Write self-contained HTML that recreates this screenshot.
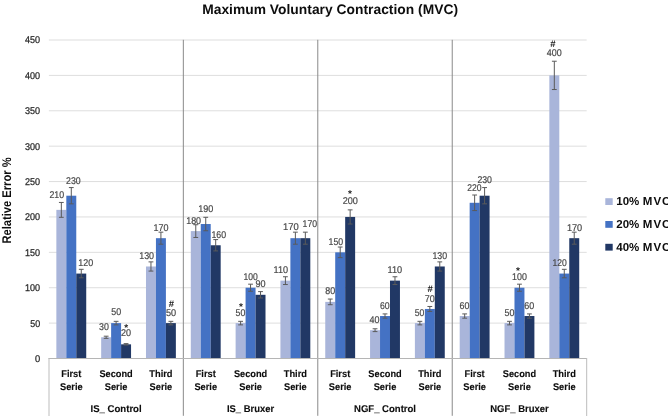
<!DOCTYPE html>
<html><head><meta charset="utf-8"><title>Maximum Voluntary Contraction (MVC)</title>
<style>
html,body{margin:0;padding:0;background:#fff;}
body{width:668px;height:416px;overflow:hidden;}
svg{display:block;will-change:transform;}
text{font-family:"Liberation Sans",sans-serif;text-rendering:geometricPrecision;}
</style></head><body>
<svg width="668" height="416" viewBox="0 0 668 416">
<rect x="0" y="0" width="668" height="416" fill="#ffffff"/>
<text x="202.2" y="13.7" font-size="13.8" font-weight="bold" fill="#0d0d0d" textLength="255.8" lengthAdjust="spacing">Maximum Voluntary Contraction (MVC)</text>
<text transform="translate(11.0,243.6) rotate(-90)" x="0" y="0" font-size="12.6" font-weight="bold" fill="#0d0d0d" textLength="86.2" lengthAdjust="spacingAndGlyphs">Relative Error %</text>
<rect x="48.88" y="322.61" width="537.80" height="1" fill="#dedede"/>
<rect x="48.88" y="287.22" width="537.80" height="1" fill="#dedede"/>
<rect x="48.88" y="251.83" width="537.80" height="1" fill="#dedede"/>
<rect x="48.88" y="216.44" width="537.80" height="1" fill="#dedede"/>
<rect x="48.88" y="181.06" width="537.80" height="1" fill="#dedede"/>
<rect x="48.88" y="145.67" width="537.80" height="1" fill="#dedede"/>
<rect x="48.88" y="110.28" width="537.80" height="1" fill="#dedede"/>
<rect x="48.88" y="74.89" width="537.80" height="1" fill="#dedede"/>
<rect x="48.88" y="39.50" width="537.80" height="1" fill="#dedede"/>
<text x="34.90" y="361.95" font-size="9.8" fill="#262626" stroke="#262626" stroke-width="0.25" textLength="5.20" lengthAdjust="spacingAndGlyphs">0</text>
<text x="30.20" y="326.56" font-size="9.8" fill="#262626" stroke="#262626" stroke-width="0.25" textLength="9.90" lengthAdjust="spacingAndGlyphs">50</text>
<text x="25.00" y="291.17" font-size="9.8" fill="#262626" stroke="#262626" stroke-width="0.25" textLength="15.10" lengthAdjust="spacingAndGlyphs">100</text>
<text x="25.00" y="255.78" font-size="9.8" fill="#262626" stroke="#262626" stroke-width="0.25" textLength="15.10" lengthAdjust="spacingAndGlyphs">150</text>
<text x="25.00" y="220.39" font-size="9.8" fill="#262626" stroke="#262626" stroke-width="0.25" textLength="15.10" lengthAdjust="spacingAndGlyphs">200</text>
<text x="25.00" y="185.01" font-size="9.8" fill="#262626" stroke="#262626" stroke-width="0.25" textLength="15.10" lengthAdjust="spacingAndGlyphs">250</text>
<text x="25.00" y="149.62" font-size="9.8" fill="#262626" stroke="#262626" stroke-width="0.25" textLength="15.10" lengthAdjust="spacingAndGlyphs">300</text>
<text x="25.00" y="114.23" font-size="9.8" fill="#262626" stroke="#262626" stroke-width="0.25" textLength="15.10" lengthAdjust="spacingAndGlyphs">350</text>
<text x="25.00" y="78.84" font-size="9.8" fill="#262626" stroke="#262626" stroke-width="0.25" textLength="15.10" lengthAdjust="spacingAndGlyphs">400</text>
<text x="25.00" y="43.45" font-size="9.8" fill="#262626" stroke="#262626" stroke-width="0.25" textLength="15.10" lengthAdjust="spacingAndGlyphs">450</text>
<rect x="182.83" y="39.80" width="1" height="376.00" fill="#8a8a8a"/>
<rect x="317.28" y="39.80" width="1" height="376.00" fill="#8a8a8a"/>
<rect x="451.73" y="39.80" width="1" height="376.00" fill="#8a8a8a"/>
<rect x="56.35" y="209.87" width="9.96" height="148.13" fill="#a9b5da"/>
<rect x="66.31" y="195.71" width="9.96" height="162.29" fill="#4472c4"/>
<rect x="76.27" y="273.57" width="9.96" height="84.43" fill="#213865"/>
<rect x="101.17" y="337.27" width="9.96" height="20.73" fill="#a9b5da"/>
<rect x="111.13" y="323.11" width="9.96" height="34.89" fill="#4472c4"/>
<rect x="121.09" y="344.34" width="9.96" height="13.66" fill="#213865"/>
<rect x="145.98" y="266.49" width="9.96" height="91.51" fill="#a9b5da"/>
<rect x="155.94" y="238.18" width="9.96" height="119.82" fill="#4472c4"/>
<rect x="165.90" y="323.11" width="9.96" height="34.89" fill="#213865"/>
<rect x="190.80" y="231.10" width="9.96" height="126.90" fill="#a9b5da"/>
<rect x="200.76" y="224.02" width="9.96" height="133.98" fill="#4472c4"/>
<rect x="210.72" y="245.26" width="9.96" height="112.74" fill="#213865"/>
<rect x="235.62" y="323.11" width="9.96" height="34.89" fill="#a9b5da"/>
<rect x="245.58" y="287.72" width="9.96" height="70.28" fill="#4472c4"/>
<rect x="255.54" y="294.80" width="9.96" height="63.20" fill="#213865"/>
<rect x="280.43" y="280.64" width="9.96" height="77.36" fill="#a9b5da"/>
<rect x="290.39" y="238.18" width="9.96" height="119.82" fill="#4472c4"/>
<rect x="300.35" y="238.18" width="9.96" height="119.82" fill="#213865"/>
<rect x="325.25" y="301.88" width="9.96" height="56.12" fill="#a9b5da"/>
<rect x="335.21" y="252.33" width="9.96" height="105.67" fill="#4472c4"/>
<rect x="345.17" y="216.94" width="9.96" height="141.06" fill="#213865"/>
<rect x="370.07" y="330.19" width="9.96" height="27.81" fill="#a9b5da"/>
<rect x="380.03" y="316.03" width="9.96" height="41.97" fill="#4472c4"/>
<rect x="389.99" y="280.64" width="9.96" height="77.36" fill="#213865"/>
<rect x="414.89" y="323.11" width="9.96" height="34.89" fill="#a9b5da"/>
<rect x="424.84" y="308.96" width="9.96" height="49.04" fill="#4472c4"/>
<rect x="434.80" y="266.49" width="9.96" height="91.51" fill="#213865"/>
<rect x="459.70" y="316.03" width="9.96" height="41.97" fill="#a9b5da"/>
<rect x="469.66" y="202.79" width="9.96" height="155.21" fill="#4472c4"/>
<rect x="479.62" y="195.71" width="9.96" height="162.29" fill="#213865"/>
<rect x="504.52" y="323.11" width="9.96" height="34.89" fill="#a9b5da"/>
<rect x="514.48" y="287.72" width="9.96" height="70.28" fill="#4472c4"/>
<rect x="524.44" y="316.03" width="9.96" height="41.97" fill="#213865"/>
<rect x="549.34" y="75.39" width="9.96" height="282.61" fill="#a9b5da"/>
<rect x="559.30" y="273.57" width="9.96" height="84.43" fill="#4472c4"/>
<rect x="569.26" y="238.18" width="9.96" height="119.82" fill="#213865"/>
<path d="M61.33 202.44V217.30M58.93 202.44H63.73M58.93 217.30H63.73" stroke="#5a5a5a" stroke-width="1" fill="none"/>
<path d="M71.29 187.57V203.85M68.89 187.57H73.69M68.89 203.85H73.69" stroke="#5a5a5a" stroke-width="1" fill="none"/>
<path d="M81.25 269.32V277.81M78.85 269.32H83.65M78.85 277.81H83.65" stroke="#5a5a5a" stroke-width="1" fill="none"/>
<path d="M106.15 336.20V338.33M103.75 336.20H108.55M103.75 338.33H108.55" stroke="#5a5a5a" stroke-width="1" fill="none"/>
<path d="M116.11 321.34V324.88M113.71 321.34H118.51M113.71 324.88H118.51" stroke="#5a5a5a" stroke-width="1" fill="none"/>
<path d="M126.06 343.64V345.05M123.66 343.64H128.46M123.66 345.05H128.46" stroke="#5a5a5a" stroke-width="1" fill="none"/>
<path d="M150.96 261.89V271.09M148.56 261.89H153.36M148.56 271.09H153.36" stroke="#5a5a5a" stroke-width="1" fill="none"/>
<path d="M160.92 232.16V244.19M158.52 232.16H163.32M158.52 244.19H163.32" stroke="#5a5a5a" stroke-width="1" fill="none"/>
<path d="M170.88 321.34V324.88M168.48 321.34H173.28M168.48 324.88H173.28" stroke="#5a5a5a" stroke-width="1" fill="none"/>
<path d="M195.78 224.73V237.47M193.38 224.73H198.18M193.38 237.47H198.18" stroke="#5a5a5a" stroke-width="1" fill="none"/>
<path d="M205.74 217.30V230.75M203.34 217.30H208.14M203.34 230.75H208.14" stroke="#5a5a5a" stroke-width="1" fill="none"/>
<path d="M215.70 239.59V250.92M213.30 239.59H218.10M213.30 250.92H218.10" stroke="#5a5a5a" stroke-width="1" fill="none"/>
<path d="M240.60 321.34V324.88M238.20 321.34H243.00M238.20 324.88H243.00" stroke="#5a5a5a" stroke-width="1" fill="none"/>
<path d="M250.56 284.18V291.26M248.16 284.18H252.96M248.16 291.26H252.96" stroke="#5a5a5a" stroke-width="1" fill="none"/>
<path d="M260.52 291.62V297.99M258.12 291.62H262.92M258.12 297.99H262.92" stroke="#5a5a5a" stroke-width="1" fill="none"/>
<path d="M285.41 276.75V284.54M283.01 276.75H287.81M283.01 284.54H287.81" stroke="#5a5a5a" stroke-width="1" fill="none"/>
<path d="M295.37 232.16V244.19M292.97 232.16H297.77M292.97 244.19H297.77" stroke="#5a5a5a" stroke-width="1" fill="none"/>
<path d="M305.33 232.16V244.19M302.93 232.16H307.73M302.93 244.19H307.73" stroke="#5a5a5a" stroke-width="1" fill="none"/>
<path d="M330.23 299.05V304.71M327.83 299.05H332.63M327.83 304.71H332.63" stroke="#5a5a5a" stroke-width="1" fill="none"/>
<path d="M340.19 247.03V257.64M337.79 247.03H342.59M337.79 257.64H342.59" stroke="#5a5a5a" stroke-width="1" fill="none"/>
<path d="M350.15 209.87V224.02M347.75 209.87H352.55M347.75 224.02H352.55" stroke="#5a5a5a" stroke-width="1" fill="none"/>
<path d="M375.05 328.77V331.60M372.65 328.77H377.45M372.65 331.60H377.45" stroke="#5a5a5a" stroke-width="1" fill="none"/>
<path d="M385.01 313.91V318.16M382.61 313.91H387.41M382.61 318.16H387.41" stroke="#5a5a5a" stroke-width="1" fill="none"/>
<path d="M394.97 276.75V284.54M392.57 276.75H397.37M392.57 284.54H397.37" stroke="#5a5a5a" stroke-width="1" fill="none"/>
<path d="M419.87 321.34V324.88M417.47 321.34H422.27M417.47 324.88H422.27" stroke="#5a5a5a" stroke-width="1" fill="none"/>
<path d="M429.82 306.48V311.43M427.42 306.48H432.22M427.42 311.43H432.22" stroke="#5a5a5a" stroke-width="1" fill="none"/>
<path d="M439.78 261.89V271.09M437.38 261.89H442.18M437.38 271.09H442.18" stroke="#5a5a5a" stroke-width="1" fill="none"/>
<path d="M464.68 313.91V318.16M462.28 313.91H467.08M462.28 318.16H467.08" stroke="#5a5a5a" stroke-width="1" fill="none"/>
<path d="M474.64 195.00V210.57M472.24 195.00H477.04M472.24 210.57H477.04" stroke="#5a5a5a" stroke-width="1" fill="none"/>
<path d="M484.60 187.57V203.85M482.20 187.57H487.00M482.20 203.85H487.00" stroke="#5a5a5a" stroke-width="1" fill="none"/>
<path d="M509.50 321.34V324.88M507.10 321.34H511.90M507.10 324.88H511.90" stroke="#5a5a5a" stroke-width="1" fill="none"/>
<path d="M519.46 284.18V291.26M517.06 284.18H521.86M517.06 291.26H521.86" stroke="#5a5a5a" stroke-width="1" fill="none"/>
<path d="M529.42 313.91V318.16M527.02 313.91H531.82M527.02 318.16H531.82" stroke="#5a5a5a" stroke-width="1" fill="none"/>
<path d="M554.32 61.23V89.54M551.92 61.23H556.72M551.92 89.54H556.72" stroke="#5a5a5a" stroke-width="1" fill="none"/>
<path d="M564.28 269.32V277.81M561.88 269.32H566.68M561.88 277.81H566.68" stroke="#5a5a5a" stroke-width="1" fill="none"/>
<path d="M574.23 232.16V244.19M571.83 232.16H576.63M571.83 244.19H576.63" stroke="#5a5a5a" stroke-width="1" fill="none"/>
<rect x="48.5" y="358" width="538.30" height="1" fill="#b5b5b5"/>
<rect x="48.5" y="358" width="1" height="58" fill="#bdbdbd"/>
<rect x="586.18" y="358" width="1" height="58" fill="#bdbdbd"/>
<text x="49.40" y="198.00" font-size="9.8" fill="#474747" stroke="#474747" stroke-width="0.2" textLength="14.70" lengthAdjust="spacingAndGlyphs">210</text>
<text x="66.10" y="183.70" font-size="9.8" fill="#474747" stroke="#474747" stroke-width="0.2" textLength="14.60" lengthAdjust="spacingAndGlyphs">230</text>
<text x="78.35" y="265.60" font-size="9.8" fill="#474747" stroke="#474747" stroke-width="0.2" textLength="14.95" lengthAdjust="spacingAndGlyphs">120</text>
<text x="99.00" y="329.70" font-size="9.8" fill="#474747" stroke="#474747" stroke-width="0.2" textLength="9.80" lengthAdjust="spacingAndGlyphs">30</text>
<text x="111.20" y="315.30" font-size="9.8" fill="#474747" stroke="#474747" stroke-width="0.2" textLength="9.90" lengthAdjust="spacingAndGlyphs">50</text>
<text x="121.00" y="336.20" font-size="9.8" fill="#474747" stroke="#474747" stroke-width="0.2" textLength="10.10" lengthAdjust="spacingAndGlyphs">20</text>
<text x="139.20" y="259.10" font-size="9.8" fill="#474747" stroke="#474747" stroke-width="0.2" textLength="14.90" lengthAdjust="spacingAndGlyphs">130</text>
<text x="153.40" y="230.80" font-size="9.8" fill="#474747" stroke="#474747" stroke-width="0.2" textLength="15.00" lengthAdjust="spacingAndGlyphs">170</text>
<text x="165.90" y="315.70" font-size="9.8" fill="#474747" stroke="#474747" stroke-width="0.2" textLength="10.20" lengthAdjust="spacingAndGlyphs">50</text>
<text x="186.20" y="223.70" font-size="9.8" fill="#474747" stroke="#474747" stroke-width="0.2" textLength="14.90" lengthAdjust="spacingAndGlyphs">180</text>
<text x="198.20" y="212.10" font-size="9.8" fill="#474747" stroke="#474747" stroke-width="0.2" textLength="15.10" lengthAdjust="spacingAndGlyphs">190</text>
<text x="211.40" y="237.80" font-size="9.8" fill="#474747" stroke="#474747" stroke-width="0.2" textLength="14.70" lengthAdjust="spacingAndGlyphs">160</text>
<text x="235.50" y="315.70" font-size="9.8" fill="#474747" stroke="#474747" stroke-width="0.2" textLength="9.80" lengthAdjust="spacingAndGlyphs">50</text>
<text x="243.40" y="279.90" font-size="9.8" fill="#474747" stroke="#474747" stroke-width="0.2" textLength="14.30" lengthAdjust="spacingAndGlyphs">100</text>
<text x="255.40" y="287.20" font-size="9.8" fill="#474747" stroke="#474747" stroke-width="0.2" textLength="10.10" lengthAdjust="spacingAndGlyphs">90</text>
<text x="273.50" y="273.20" font-size="9.8" fill="#474747" stroke="#474747" stroke-width="0.2" textLength="14.50" lengthAdjust="spacingAndGlyphs">110</text>
<text x="283.10" y="229.90" font-size="9.8" fill="#474747" stroke="#474747" stroke-width="0.2" textLength="15.70" lengthAdjust="spacingAndGlyphs">170</text>
<text x="302.60" y="227.40" font-size="9.8" fill="#474747" stroke="#474747" stroke-width="0.2" textLength="14.50" lengthAdjust="spacingAndGlyphs">170</text>
<text x="325.20" y="294.20" font-size="9.8" fill="#474747" stroke="#474747" stroke-width="0.2" textLength="9.90" lengthAdjust="spacingAndGlyphs">80</text>
<text x="328.60" y="244.90" font-size="9.8" fill="#474747" stroke="#474747" stroke-width="0.2" textLength="14.60" lengthAdjust="spacingAndGlyphs">150</text>
<text x="342.70" y="203.70" font-size="9.8" fill="#474747" stroke="#474747" stroke-width="0.2" textLength="15.20" lengthAdjust="spacingAndGlyphs">200</text>
<text x="369.60" y="322.80" font-size="9.8" fill="#474747" stroke="#474747" stroke-width="0.2" textLength="10.00" lengthAdjust="spacingAndGlyphs">40</text>
<text x="380.00" y="309.00" font-size="9.8" fill="#474747" stroke="#474747" stroke-width="0.2" textLength="9.70" lengthAdjust="spacingAndGlyphs">60</text>
<text x="387.50" y="273.20" font-size="9.8" fill="#474747" stroke="#474747" stroke-width="0.2" textLength="14.60" lengthAdjust="spacingAndGlyphs">110</text>
<text x="414.80" y="315.70" font-size="9.8" fill="#474747" stroke="#474747" stroke-width="0.2" textLength="9.60" lengthAdjust="spacingAndGlyphs">50</text>
<text x="424.80" y="302.00" font-size="9.8" fill="#474747" stroke="#474747" stroke-width="0.2" textLength="10.00" lengthAdjust="spacingAndGlyphs">70</text>
<text x="432.40" y="259.00" font-size="9.8" fill="#474747" stroke="#474747" stroke-width="0.2" textLength="14.70" lengthAdjust="spacingAndGlyphs">130</text>
<text x="459.50" y="308.50" font-size="9.8" fill="#474747" stroke="#474747" stroke-width="0.2" textLength="9.90" lengthAdjust="spacingAndGlyphs">60</text>
<text x="467.20" y="190.90" font-size="9.8" fill="#474747" stroke="#474747" stroke-width="0.2" textLength="14.30" lengthAdjust="spacingAndGlyphs">220</text>
<text x="477.40" y="183.40" font-size="9.8" fill="#474747" stroke="#474747" stroke-width="0.2" textLength="14.60" lengthAdjust="spacingAndGlyphs">230</text>
<text x="504.50" y="315.60" font-size="9.8" fill="#474747" stroke="#474747" stroke-width="0.2" textLength="9.90" lengthAdjust="spacingAndGlyphs">50</text>
<text x="512.10" y="280.00" font-size="9.8" fill="#474747" stroke="#474747" stroke-width="0.2" textLength="14.80" lengthAdjust="spacingAndGlyphs">100</text>
<text x="524.30" y="308.80" font-size="9.8" fill="#474747" stroke="#474747" stroke-width="0.2" textLength="10.00" lengthAdjust="spacingAndGlyphs">60</text>
<text x="546.80" y="56.10" font-size="9.8" fill="#474747" stroke="#474747" stroke-width="0.2" textLength="14.90" lengthAdjust="spacingAndGlyphs">400</text>
<text x="552.40" y="266.20" font-size="9.8" fill="#474747" stroke="#474747" stroke-width="0.2" textLength="14.30" lengthAdjust="spacingAndGlyphs">120</text>
<text x="566.90" y="231.00" font-size="9.8" fill="#474747" stroke="#474747" stroke-width="0.2" textLength="15.30" lengthAdjust="spacingAndGlyphs">170</text>
<text x="126.17" y="331.40" font-size="10" font-weight="bold" fill="#1a1a1a" text-anchor="middle">*</text>
<text x="171.38" y="306.90" font-size="9.5" font-weight="bold" fill="#1a1a1a" text-anchor="middle">#</text>
<text x="241.00" y="310.30" font-size="10" font-weight="bold" fill="#1a1a1a" text-anchor="middle">*</text>
<text x="349.85" y="196.60" font-size="10" font-weight="bold" fill="#1a1a1a" text-anchor="middle">*</text>
<text x="430.05" y="292.20" font-size="9.5" font-weight="bold" fill="#1a1a1a" text-anchor="middle">#</text>
<text x="517.90" y="273.50" font-size="10" font-weight="bold" fill="#1a1a1a" text-anchor="middle">*</text>
<text x="553.00" y="47.20" font-size="9.5" font-weight="bold" fill="#1a1a1a" text-anchor="middle">#</text>
<text x="71.29" y="376.6" font-size="9.8" font-weight="bold" fill="#0d0d0d" stroke="#0d0d0d" stroke-width="0.12" text-anchor="middle" lengthAdjust="spacingAndGlyphs" textLength="20.10">First</text>
<text x="71.29" y="390.3" font-size="9.8" font-weight="bold" fill="#0d0d0d" stroke="#0d0d0d" stroke-width="0.12" text-anchor="middle" lengthAdjust="spacingAndGlyphs" textLength="22.70">Serie</text>
<text x="116.11" y="376.6" font-size="9.8" font-weight="bold" fill="#0d0d0d" stroke="#0d0d0d" stroke-width="0.12" text-anchor="middle" lengthAdjust="spacingAndGlyphs" textLength="33.30">Second</text>
<text x="116.11" y="390.3" font-size="9.8" font-weight="bold" fill="#0d0d0d" stroke="#0d0d0d" stroke-width="0.12" text-anchor="middle" lengthAdjust="spacingAndGlyphs" textLength="22.70">Serie</text>
<text x="160.92" y="376.6" font-size="9.8" font-weight="bold" fill="#0d0d0d" stroke="#0d0d0d" stroke-width="0.12" text-anchor="middle" lengthAdjust="spacingAndGlyphs" textLength="23.30">Third</text>
<text x="160.92" y="390.3" font-size="9.8" font-weight="bold" fill="#0d0d0d" stroke="#0d0d0d" stroke-width="0.12" text-anchor="middle" lengthAdjust="spacingAndGlyphs" textLength="22.70">Serie</text>
<text x="205.74" y="376.6" font-size="9.8" font-weight="bold" fill="#0d0d0d" stroke="#0d0d0d" stroke-width="0.12" text-anchor="middle" lengthAdjust="spacingAndGlyphs" textLength="20.10">First</text>
<text x="205.74" y="390.3" font-size="9.8" font-weight="bold" fill="#0d0d0d" stroke="#0d0d0d" stroke-width="0.12" text-anchor="middle" lengthAdjust="spacingAndGlyphs" textLength="22.70">Serie</text>
<text x="250.56" y="376.6" font-size="9.8" font-weight="bold" fill="#0d0d0d" stroke="#0d0d0d" stroke-width="0.12" text-anchor="middle" lengthAdjust="spacingAndGlyphs" textLength="33.30">Second</text>
<text x="250.56" y="390.3" font-size="9.8" font-weight="bold" fill="#0d0d0d" stroke="#0d0d0d" stroke-width="0.12" text-anchor="middle" lengthAdjust="spacingAndGlyphs" textLength="22.70">Serie</text>
<text x="295.37" y="376.6" font-size="9.8" font-weight="bold" fill="#0d0d0d" stroke="#0d0d0d" stroke-width="0.12" text-anchor="middle" lengthAdjust="spacingAndGlyphs" textLength="23.30">Third</text>
<text x="295.37" y="390.3" font-size="9.8" font-weight="bold" fill="#0d0d0d" stroke="#0d0d0d" stroke-width="0.12" text-anchor="middle" lengthAdjust="spacingAndGlyphs" textLength="22.70">Serie</text>
<text x="340.19" y="376.6" font-size="9.8" font-weight="bold" fill="#0d0d0d" stroke="#0d0d0d" stroke-width="0.12" text-anchor="middle" lengthAdjust="spacingAndGlyphs" textLength="20.10">First</text>
<text x="340.19" y="390.3" font-size="9.8" font-weight="bold" fill="#0d0d0d" stroke="#0d0d0d" stroke-width="0.12" text-anchor="middle" lengthAdjust="spacingAndGlyphs" textLength="22.70">Serie</text>
<text x="385.01" y="376.6" font-size="9.8" font-weight="bold" fill="#0d0d0d" stroke="#0d0d0d" stroke-width="0.12" text-anchor="middle" lengthAdjust="spacingAndGlyphs" textLength="33.30">Second</text>
<text x="385.01" y="390.3" font-size="9.8" font-weight="bold" fill="#0d0d0d" stroke="#0d0d0d" stroke-width="0.12" text-anchor="middle" lengthAdjust="spacingAndGlyphs" textLength="22.70">Serie</text>
<text x="429.82" y="376.6" font-size="9.8" font-weight="bold" fill="#0d0d0d" stroke="#0d0d0d" stroke-width="0.12" text-anchor="middle" lengthAdjust="spacingAndGlyphs" textLength="23.30">Third</text>
<text x="429.82" y="390.3" font-size="9.8" font-weight="bold" fill="#0d0d0d" stroke="#0d0d0d" stroke-width="0.12" text-anchor="middle" lengthAdjust="spacingAndGlyphs" textLength="22.70">Serie</text>
<text x="474.64" y="376.6" font-size="9.8" font-weight="bold" fill="#0d0d0d" stroke="#0d0d0d" stroke-width="0.12" text-anchor="middle" lengthAdjust="spacingAndGlyphs" textLength="20.10">First</text>
<text x="474.64" y="390.3" font-size="9.8" font-weight="bold" fill="#0d0d0d" stroke="#0d0d0d" stroke-width="0.12" text-anchor="middle" lengthAdjust="spacingAndGlyphs" textLength="22.70">Serie</text>
<text x="519.46" y="376.6" font-size="9.8" font-weight="bold" fill="#0d0d0d" stroke="#0d0d0d" stroke-width="0.12" text-anchor="middle" lengthAdjust="spacingAndGlyphs" textLength="33.30">Second</text>
<text x="519.46" y="390.3" font-size="9.8" font-weight="bold" fill="#0d0d0d" stroke="#0d0d0d" stroke-width="0.12" text-anchor="middle" lengthAdjust="spacingAndGlyphs" textLength="22.70">Serie</text>
<text x="564.28" y="376.6" font-size="9.8" font-weight="bold" fill="#0d0d0d" stroke="#0d0d0d" stroke-width="0.12" text-anchor="middle" lengthAdjust="spacingAndGlyphs" textLength="23.30">Third</text>
<text x="564.28" y="390.3" font-size="9.8" font-weight="bold" fill="#0d0d0d" stroke="#0d0d0d" stroke-width="0.12" text-anchor="middle" lengthAdjust="spacingAndGlyphs" textLength="22.70">Serie</text>
<text x="116.11" y="412.1" font-size="9.8" font-weight="bold" fill="#0d0d0d" stroke="#0d0d0d" stroke-width="0.12" text-anchor="middle" lengthAdjust="spacingAndGlyphs" textLength="51.10">IS_ Control</text>
<text x="250.56" y="412.1" font-size="9.8" font-weight="bold" fill="#0d0d0d" stroke="#0d0d0d" stroke-width="0.12" text-anchor="middle" lengthAdjust="spacingAndGlyphs" textLength="47.20">IS_ Bruxer</text>
<text x="385.01" y="412.1" font-size="9.8" font-weight="bold" fill="#0d0d0d" stroke="#0d0d0d" stroke-width="0.12" text-anchor="middle" lengthAdjust="spacingAndGlyphs" textLength="62.00">NGF_ Control</text>
<text x="519.46" y="412.1" font-size="9.8" font-weight="bold" fill="#0d0d0d" stroke="#0d0d0d" stroke-width="0.12" text-anchor="middle" lengthAdjust="spacingAndGlyphs" textLength="58.50">NGF_ Bruxer</text>
<rect x="605.3" y="198.20" width="7.4" height="6.8" fill="#a9b5da"/>
<text x="616.3" y="205.00" font-size="11.5" font-weight="bold" fill="#0d0d0d">10%</text>
<text x="642.8" y="205.00" font-size="11.5" font-weight="bold" fill="#0d0d0d" letter-spacing="1">MVC</text>
<rect x="605.3" y="221.00" width="7.4" height="6.8" fill="#4472c4"/>
<text x="616.3" y="227.80" font-size="11.5" font-weight="bold" fill="#0d0d0d">20%</text>
<text x="642.8" y="227.80" font-size="11.5" font-weight="bold" fill="#0d0d0d" letter-spacing="1">MVC</text>
<rect x="605.3" y="243.80" width="7.4" height="6.8" fill="#213865"/>
<text x="616.3" y="250.60" font-size="11.5" font-weight="bold" fill="#0d0d0d">40%</text>
<text x="642.8" y="250.60" font-size="11.5" font-weight="bold" fill="#0d0d0d" letter-spacing="1">MVC</text>
</svg>
</body></html>
